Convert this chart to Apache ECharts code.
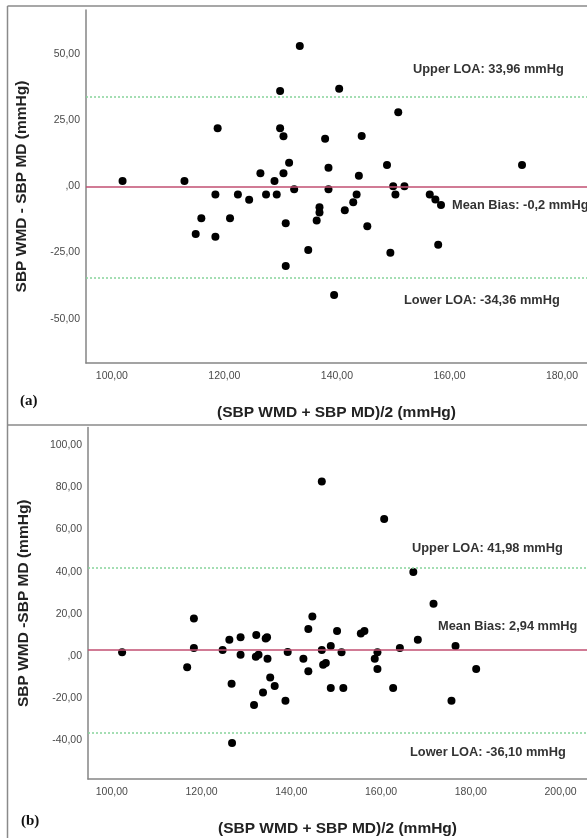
<!DOCTYPE html>
<html>
<head>
<meta charset="utf-8">
<script src="https://cdn.jsdelivr.net/npm/echarts@6/dist/echarts.min.js"></script>
<style>
  body { margin: 0; background: #fff; }
  #chart { width: 587px; height: 838px; }
</style>
</head>
<body>
<div id="chart"></div>
<script>
// panel (a): mean of the two readings, and their difference
var meanA = [101.9, 112.9, 118.8, 118.4, 122.4, 124.4, 126.4, 127.4, 128.9, 129.3,
  115.9, 121.0, 114.9, 118.4, 133.4, 129.9, 140.4, 150.9, 129.9, 130.5,
  137.9, 144.4, 131.5, 130.5, 138.5, 143.9, 148.9, 132.4, 138.5, 143.5,
  150.0, 152.0, 150.4, 142.9, 136.9, 136.9, 141.4, 136.4, 130.9, 145.4,
  134.9, 149.5, 130.9, 139.5, 156.5, 157.5, 158.5, 158.0, 172.9];
var diffA = [2.1, 2.1, 22.0, -3.0, -3.0, -5.0, 5.0, -3.0, 2.1, -3.0,
  -12.0, -12.0, -18.0, -19.0, 53.2, 36.1, 37.0, 28.1, 22.0, 19.0,
  18.1, 19.1, 9.0, 5.0, 7.1, 4.1, 8.1, -1.0, -1.0, -3.0,
  0.1, 0.1, -3.0, -6.0, -7.9, -9.8, -9.0, -12.9, -13.9, -15.0,
  -24.0, -25.1, -30.1, -41.1, -3.0, -4.9, -7.0, -22.0, 8.1];
var biasA = -0.2, upperA = 33.96, lowerA = -34.36;

// panel (b)
var meanB = [102.3, 118.3, 118.3, 116.8, 124.7, 126.2, 128.7, 128.7, 126.7, 132.2,
  134.3, 134.6, 132.1, 132.7, 134.7, 135.3, 136.3, 133.7, 131.7, 138.7,
  139.2, 126.8, 146.8, 160.7, 167.2, 171.7, 144.7, 143.8, 150.2, 155.5,
  156.3, 168.2, 176.6, 164.2, 148.8, 146.8, 151.2, 159.2, 142.7, 158.6,
  147.1, 147.7, 143.8, 159.2, 181.2, 148.8, 151.6, 162.7, 175.7];
var diffB = [1.8, 17.8, 3.8, -5.3, 2.9, 7.8, 8.9, 0.7, -13.1, 10.0,
  8.4, 8.9, -0.3, 0.7, -1.2, -10.1, -14.2, -17.2, -23.2, -21.1,
  1.9, -41.1, 82.7, 64.9, 39.8, 24.8, 18.8, 12.8, 11.9, 10.7,
  11.9, 7.8, 4.8, 3.8, 4.8, 2.9, 1.8, 1.8, -1.2, -1.2,
  -4.1, -3.3, -7.2, -6.1, -6.1, -15.1, -15.1, -15.1, -21.1];
var biasB = 2.94, upperB = 41.98, lowerB = -36.10;

// tick labels
var xTicksA = [100, 120, 140, 160, 180];
var yTicksA = [-50, -25, 0, 25, 50];
var xTicksB = [100, 120, 140, 160, 180, 200];
var yTicksB = [-40, -20, 0, 20, 40, 60, 80, 100];

function pairs(xs, ys) {
  return xs.map(function (x, i) { return [x, ys[i]]; });
}

function fmt(v) {
  if (v === 0) return ',00';
  return v.toFixed(2).replace('.', ',');
}

var axisGray = '#858585';
var titleFont = { fontFamily: 'Liberation Sans', fontWeight: 'bold', fontSize: 15.5, color: '#222' };
var tickLabel = { fontFamily: 'Liberation Sans', fontSize: 10.5, color: '#4a4a4a' };
var noteStyle = { fontFamily: 'Liberation Sans', fontWeight: 'bold', fontSize: 12.8, fill: '#333' };

function xAxis(idx, min, max, ticks) {
  return {
    type: 'value', gridIndex: idx, min: min, max: max,
    name: '(SBP WMD + SBP MD)/2 (mmHg)', nameLocation: 'middle', nameGap: 42,
    nameTextStyle: titleFont,
    axisLine: { onZero: false, lineStyle: { color: axisGray, width: 1.5 } },
    axisTick: { show: false },
    splitLine: { show: false },
    axisLabel: Object.assign({ customValues: ticks, formatter: fmt, margin: 8 }, tickLabel)
  };
}

function yAxis(idx, min, max, ticks, title) {
  return {
    type: 'value', gridIndex: idx, min: min, max: max,
    name: title, nameLocation: 'middle', nameGap: 56, nameRotate: 90,
    nameTextStyle: titleFont,
    axisLine: { show: true, onZero: false, lineStyle: { color: axisGray, width: 1.5 } },
    axisTick: { show: false },
    splitLine: { show: false },
    axisLabel: Object.assign({ customValues: ticks, formatter: fmt, margin: 6 }, tickLabel)
  };
}

function refLines(idx, bias, upper, lower) {
  return {
    type: 'scatter', xAxisIndex: idx, yAxisIndex: idx, data: [], z: 1,
    markLine: {
      silent: true, symbol: 'none', label: { show: false },
      data: [
        { yAxis: upper, lineStyle: { color: '#86d39a', type: [2, 2], width: 1.5 } },
        { yAxis: lower, lineStyle: { color: '#86d39a', type: [2, 2], width: 1.5 } },
        { yAxis: bias, lineStyle: { color: '#c24f72', type: 'solid', width: 1.6 } }
      ]
    }
  };
}

function dots(idx, data) {
  return {
    type: 'scatter', xAxisIndex: idx, yAxisIndex: idx, z: 3,
    symbolSize: 8, itemStyle: { color: '#000', opacity: 1 }, data: data
  };
}

function note(x, y, text) {
  return { type: 'text', x: x, y: y, style: Object.assign({ text: text, verticalAlign: 'middle' }, noteStyle) };
}

function frameLine(x1, y1, x2, y2) {
  return { type: 'line', shape: { x1: x1, y1: y1, x2: x2, y2: y2 }, style: { stroke: '#8a8a8a', lineWidth: 1.5 } };
}

var myChart = echarts.init(document.getElementById('chart'));
myChart.setOption({
  animation: false,
  grid: [
    { left: 86, top: 10, width: 501, height: 353 },
    { left: 88, top: 427.5, width: 499, height: 352 }
  ],
  xAxis: [
    xAxis(0, 95.4, 184.45, xTicksA),
    xAxis(1, 94.7, 205.9, xTicksB)
  ],
  yAxis: [
    yAxis(0, -66.8, 66.8, yTicksA, 'SBP WMD - SBP MD (mmHg)'),
    yAxis(1, -58.2, 108.3, yTicksB, 'SBP WMD -SBP MD (mmHg)')
  ],
  series: [
    refLines(0, biasA, upperA, lowerA),
    dots(0, pairs(meanA, diffA)),
    refLines(1, biasB, upperB, lowerB),
    dots(1, pairs(meanB, diffB))
  ],
  graphic: [
    frameLine(7.5, 6, 587, 6),
    frameLine(7.5, 6, 7.5, 838),
    frameLine(7.5, 425, 587, 425),
    { type: 'text', x: 20, y: 401, style: { text: '(a)', verticalAlign: 'middle', fontFamily: 'Liberation Serif', fontWeight: 'bold', fontSize: 15, fill: '#111' } },
    { type: 'text', x: 21, y: 821, style: { text: '(b)', verticalAlign: 'middle', fontFamily: 'Liberation Serif', fontWeight: 'bold', fontSize: 15, fill: '#111' } },
    note(413, 69, 'Upper LOA: ' + fmt(upperA) + ' mmHg'),
    note(452, 205, 'Mean Bias: ' + String(biasA).replace('.', ',') + ' mmHg'),
    note(404, 300, 'Lower LOA: ' + fmt(lowerA) + ' mmHg'),
    note(412, 548, 'Upper LOA: ' + fmt(upperB) + ' mmHg'),
    note(438, 626, 'Mean Bias: ' + fmt(biasB) + ' mmHg'),
    note(410, 752, 'Lower LOA: ' + fmt(lowerB) + ' mmHg')
  ]
});
</script>
</body>
</html>
